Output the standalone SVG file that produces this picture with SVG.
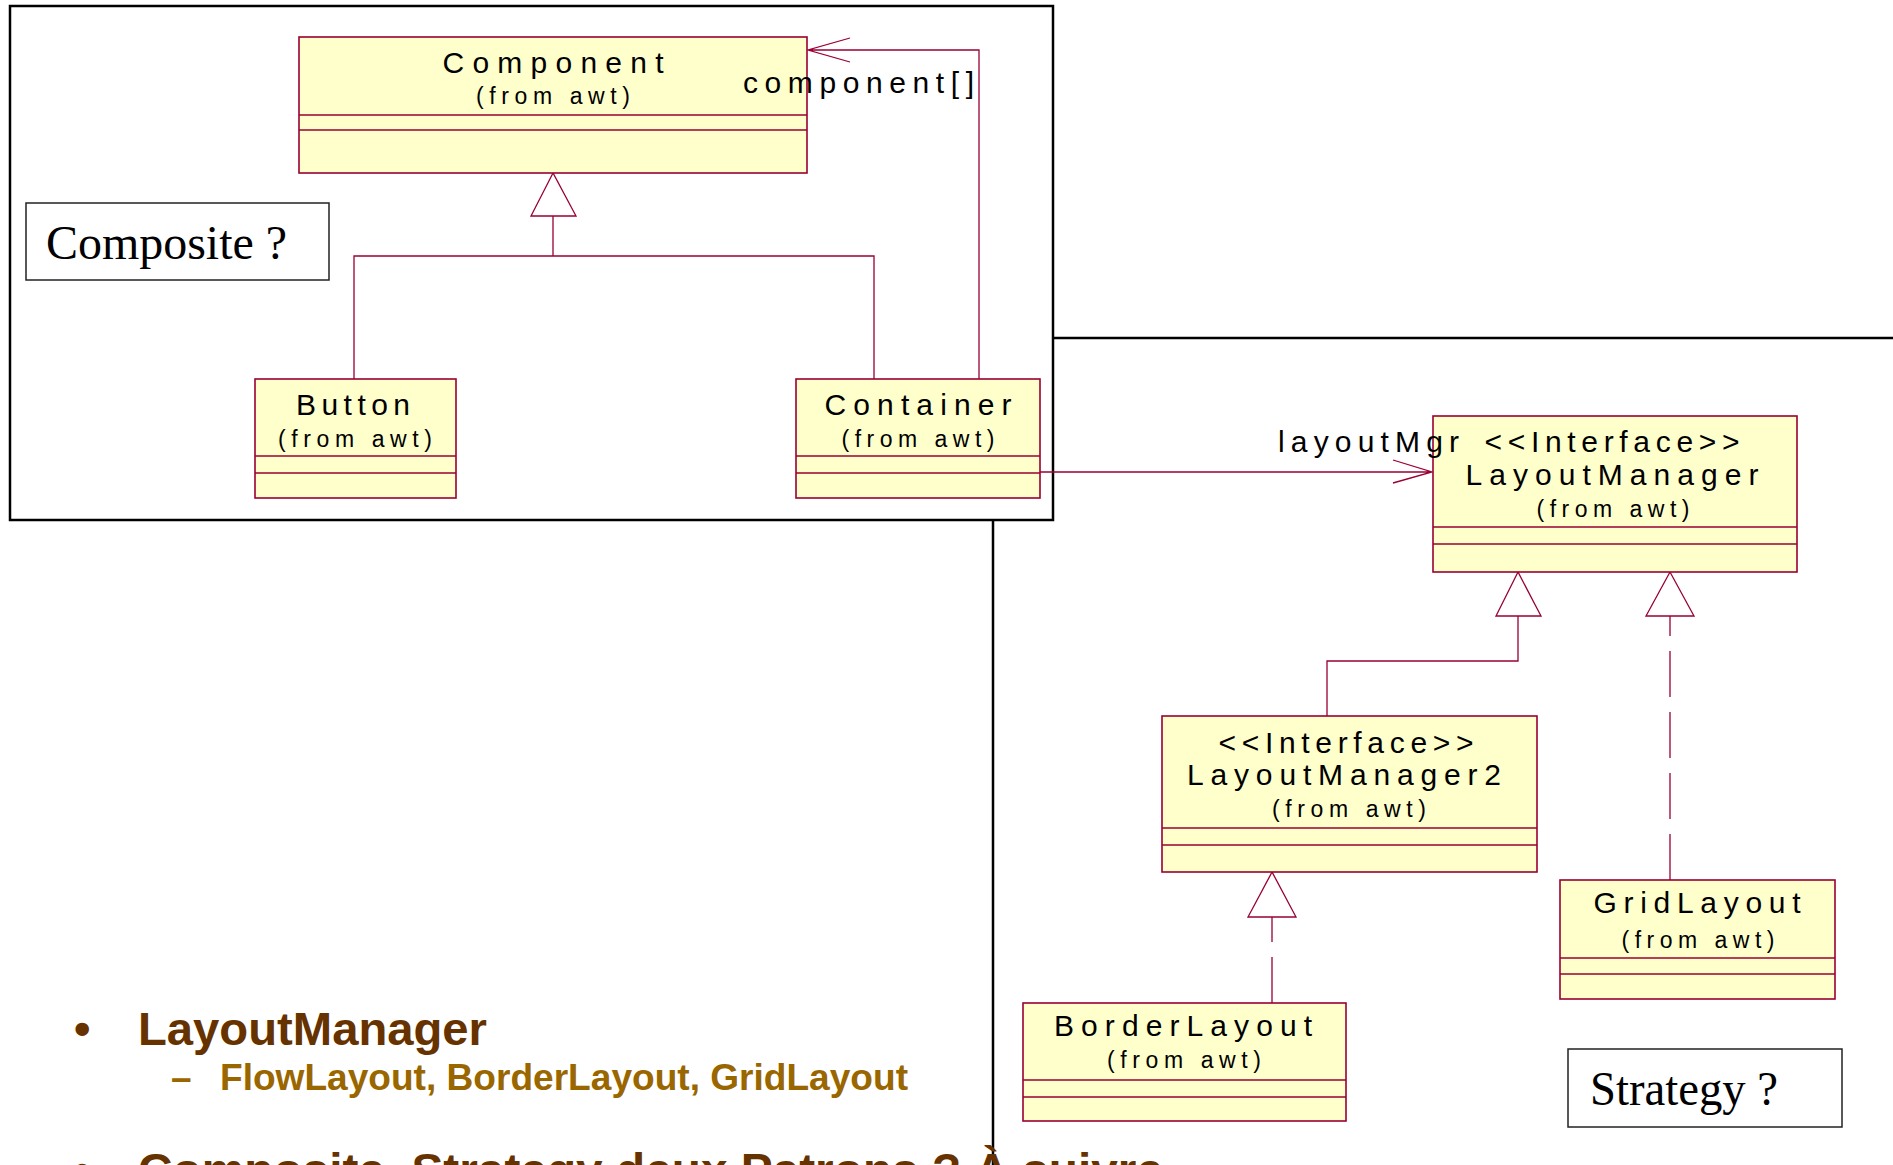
<svg xmlns="http://www.w3.org/2000/svg" width="1893" height="1165" viewBox="0 0 1893 1165">
<style>
.frame{fill:none;stroke:#000;stroke-width:2.5}
.box{fill:#ffffcc;stroke:#990033;stroke-width:1.6}
.div{stroke:#990033;stroke-width:1.3}
.conn{fill:none;stroke:#990033;stroke-width:1.3}
.dash{stroke-dasharray:46 15}
.tri{fill:#fff;stroke:#990033;stroke-width:1.3}
.name{font-family:"Liberation Sans",Arial,sans-serif;font-size:30px;fill:#000;text-anchor:middle}
.from{font-family:"Liberation Sans",Arial,sans-serif;font-size:23px;fill:#000;text-anchor:middle}
.lbl{font-family:"Liberation Sans",Arial,sans-serif;font-size:30px;fill:#000}
.note{fill:#fff;stroke:#222;stroke-width:1.5}
.notet{font-family:"Liberation Serif","Times New Roman",serif;font-size:48px;fill:#000}
.b1{font-family:"Liberation Sans",Arial,sans-serif;font-weight:bold;font-size:47px;fill:#663300}
.b2{font-family:"Liberation Sans",Arial,sans-serif;font-weight:bold;font-size:37px;fill:#996600}
</style>
<rect width="1893" height="1165" fill="#fff"/>
<g id="frames">
<path class="frame" d="M993,1165 V338 H1893"/>
<rect x="10" y="6" width="1043" height="514" fill="#fff" stroke="#000" stroke-width="2.5"/>
</g>
<g id="bullets">
<text class="b1" x="74" y="1045">•</text>
<text class="b1" x="138" y="1045" textLength="349" lengthAdjust="spacingAndGlyphs">LayoutManager</text>
<text class="b2" x="171" y="1090">–</text>
<text class="b2" x="220" y="1090" textLength="688" lengthAdjust="spacingAndGlyphs">FlowLayout, BorderLayout, GridLayout</text>
<text class="b1" x="74" y="1186">•</text>
<text class="b1" x="138" y="1186" textLength="1025" lengthAdjust="spacingAndGlyphs">Composite, Strategy deux Patrons ? À suivre</text>
</g>
<g id="note-composite">
<rect class="note" x="26" y="203" width="303" height="77"/>
<text class="notet" x="46" y="259" textLength="241" lengthAdjust="spacingAndGlyphs">Composite ?</text>
</g>
<g id="note-strategy">
<rect class="note" x="1568" y="1049" width="274" height="78"/>
<text class="notet" x="1590" y="1105" textLength="188" lengthAdjust="spacingAndGlyphs">Strategy ?</text>
</g>
<g id="connectors">
<path class="conn" d="M354,379 V256 H874 V379 M553,256 V216"/>
<polygon class="tri" points="553,173 531,216 576,216"/>
<path class="conn" d="M979,379 V50 H808 M850,38 L808,50 L850,62"/>
<path class="conn" d="M1040,472 H1432 M1393,460 L1432,472 L1393,483"/>
<path class="conn" d="M1327,716 V661 H1518 V616"/>
<polygon class="tri" points="1518,572 1496,616 1541,616"/>
<path class="conn dash" d="M1670,880 V616"/>
<polygon class="tri" points="1670,572 1646,616 1694,616"/>
<path class="conn dash" d="M1272,1003 V917"/>
<polygon class="tri" points="1272,872 1248,917 1296,917"/>
</g>
<g id="Component">
<rect class="box" x="299" y="37" width="508" height="136"/>
<line class="div" x1="299" y1="115" x2="807" y2="115"/>
<line class="div" x1="299" y1="130" x2="807" y2="130"/>
<text class="name" x="553" y="73" textLength="221" lengthAdjust="spacing">Component</text>
<text class="from" x="553" y="104" textLength="154" lengthAdjust="spacing">(from  awt)</text>
</g>
<g id="Button">
<rect class="box" x="255" y="379" width="201" height="119"/>
<line class="div" x1="255" y1="456" x2="456" y2="456"/>
<line class="div" x1="255" y1="473" x2="456" y2="473"/>
<text class="name" x="353" y="415" textLength="114" lengthAdjust="spacing">Button</text>
<text class="from" x="355" y="447" textLength="154" lengthAdjust="spacing">(from  awt)</text>
</g>
<g id="Container">
<rect class="box" x="796" y="379" width="244" height="119"/>
<line class="div" x1="796" y1="456" x2="1040" y2="456"/>
<line class="div" x1="796" y1="473" x2="1040" y2="473"/>
<text class="name" x="918" y="415" textLength="187" lengthAdjust="spacing">Container</text>
<text class="from" x="918" y="447" textLength="153" lengthAdjust="spacing">(from  awt)</text>
</g>
<g id="LayoutManager">
<rect class="box" x="1433" y="416" width="364" height="156"/>
<line class="div" x1="1433" y1="527" x2="1797" y2="527"/>
<line class="div" x1="1433" y1="544" x2="1797" y2="544"/>
<text class="name" x="1612" y="452" textLength="255" lengthAdjust="spacing">&lt;&lt;Interface&gt;&gt;</text>
<text class="name" x="1612" y="485" textLength="293" lengthAdjust="spacing">LayoutManager</text>
<text class="from" x="1613" y="517" textLength="153" lengthAdjust="spacing">(from  awt)</text>
</g>
<g id="LayoutManager2">
<rect class="box" x="1162" y="716" width="375" height="156"/>
<line class="div" x1="1162" y1="828" x2="1537" y2="828"/>
<line class="div" x1="1162" y1="845" x2="1537" y2="845"/>
<text class="name" x="1346" y="753" textLength="255" lengthAdjust="spacing">&lt;&lt;Interface&gt;&gt;</text>
<text class="name" x="1344" y="785" textLength="314" lengthAdjust="spacing">LayoutManager2</text>
<text class="from" x="1349" y="817" textLength="154" lengthAdjust="spacing">(from  awt)</text>
</g>
<g id="GridLayout">
<rect class="box" x="1560" y="880" width="275" height="119"/>
<line class="div" x1="1560" y1="958" x2="1835" y2="958"/>
<line class="div" x1="1560" y1="974" x2="1835" y2="974"/>
<text class="name" x="1697" y="913" textLength="207" lengthAdjust="spacing">GridLayout</text>
<text class="from" x="1698" y="948" textLength="153" lengthAdjust="spacing">(from  awt)</text>
</g>
<g id="BorderLayout">
<rect class="box" x="1023" y="1003" width="323" height="118"/>
<line class="div" x1="1023" y1="1080" x2="1346" y2="1080"/>
<line class="div" x1="1023" y1="1097" x2="1346" y2="1097"/>
<text class="name" x="1183" y="1036" textLength="258" lengthAdjust="spacing">BorderLayout</text>
<text class="from" x="1184" y="1068" textLength="154" lengthAdjust="spacing">(from  awt)</text>
</g>
<g id="labels">
<text class="lbl" x="743" y="93" textLength="231" lengthAdjust="spacing">component[]</text>
<text class="lbl" x="1278" y="452" textLength="181" lengthAdjust="spacing">layoutMgr</text>
</g>
</svg>
